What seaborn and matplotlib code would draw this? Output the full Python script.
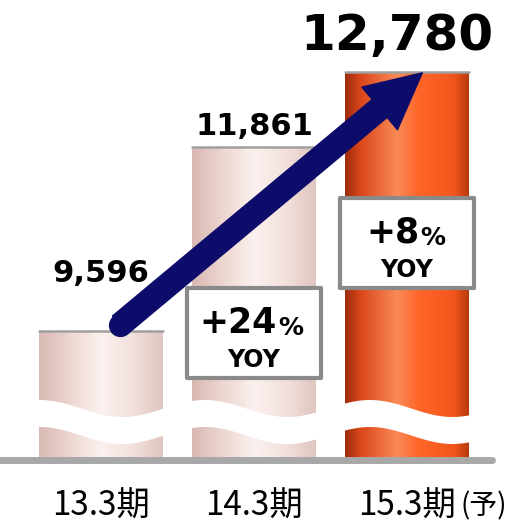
import numpy as np
import matplotlib
matplotlib.use("Agg")
import matplotlib.pyplot as plt
import seaborn as sns
from matplotlib.colors import LinearSegmentedColormap
from matplotlib.patches import Rectangle
from matplotlib.transforms import blended_transform_factory

# data
periods = ["13.3期", "14.3期", "15.3期"]
forecast_suffix = "(予)"
sales = [9596, 11861, 12780]
sales_labels = ["9,596", "11,861", "12,780"]
yoy_labels = [None, "+24", "+8"]  # % vs previous period

sns.set_theme(style="white")
plt.rcParams["font.family"] = ["DejaVu Sans", "Noto Sans CJK JP"]
plt.rcParams["text.color"] = "black"
plt.rcParams["xtick.color"] = "black"

fig = plt.figure(figsize=(5.12, 5.25), dpi=100)
ax = fig.add_axes([0, 65 / 525, 1, 460 / 525])

sns.barplot(x=periods, y=sales, hue=periods, legend=False, width=0.81,
            palette=["#f3e0dc", "#f3e0dc", "#f05a20"], ax=ax)

# broken axis: only the top part of the bars is shown
ylo, yhi = 8008, 13666

# cylinder look: horizontal gradient clipped to each bar
pink = LinearSegmentedColormap.from_list(
    "pink", ["#d8b9b2", "#edd6d0", "#fbf1ef", "#f3e1dd", "#e0c5bf"])
orange = LinearSegmentedColormap.from_list(
    "orange", [(0, "#9e2c0a"), (0.12, "#d9461a"), (0.42, "#f98a55"),
               (0.6, "#ff6428"), (0.88, "#f2561c"), (1, "#b83a0e")])
grad = np.linspace(0, 1, 256).reshape(1, -1)
for bar, cmap in zip(ax.patches, [pink, pink, orange]):
    x0, w, h = bar.get_x(), bar.get_width(), bar.get_height()
    im = ax.imshow(grad, cmap=cmap, extent=(x0, x0 + w, ylo, h),
                   aspect="auto", zorder=1.5, interpolation="bicubic")
    im.set_clip_path(bar)
    bar.set_facecolor("none")
    bar.set_edgecolor("none")
    ax.plot([x0, x0 + w], [h, h], color="#a0a0a0", lw=1.8, zorder=2,
            solid_capstyle="round")

ax.set_xlim(-0.66, 2.686)
ax.set_ylim(ylo, yhi)

# wavy white break across the bars
xs = np.linspace(0, 512, 400)
top_px = 408.5 - 8.5 * np.cos(2 * np.pi * (xs - 40) / 165)
ax.fill_between(xs / 512, (460 - top_px) / 460, (460 - top_px - 27) / 460,
                color="white", lw=0, zorder=3, transform=ax.transAxes)

# base plate
ax.axhline(ylo, xmin=0, xmax=0.96, color="#a8a8a8", lw=5, zorder=2.5,
           clip_on=False)

# growth arrow
navy = "#0d0c6b"
ax.annotate("", xy=(2.1, sales[2] - 10), xytext=(0.124, sales[0] + 73),
            arrowprops=dict(arrowstyle="simple,head_length=2.0,head_width=2.0,tail_width=0.84",
                            color=navy, shrinkA=0, shrinkB=0, mutation_scale=20),
            zorder=5)
ax.scatter([0.124], [sales[0] + 73], s=280, color=navy, zorder=5, lw=0)

# value labels
offsets = [(0, 35), (0, 8.5), (-7, 16)]
sizes = [22, 22, 36]
for i, (lab, v) in enumerate(zip(sales_labels, sales)):
    ax.annotate(lab, xy=(i, v), xytext=offsets[i], textcoords="offset points",
                ha="center", va="baseline", fontsize=sizes[i],
                fontweight="bold", color="black", zorder=6,
                annotation_clip=False)

# YOY boxes
tr = blended_transform_factory(ax.transData, ax.transAxes)
box_pos = [None, (0.178, 0.276, 0.202), (0.374, 0.472, 0.398)]
split = [None, 0.15, 0.08]
for i, lab in enumerate(yoy_labels):
    if lab is None:
        continue
    y0, yb, yy = box_pos[i]
    ax.add_patch(Rectangle((i - 0.44, y0), 0.88, 0.196, transform=tr,
                           facecolor="white", edgecolor="#8a8a8a", lw=3,
                           joinstyle="round", zorder=6))
    t = ax.text(i + split[i], yb, lab, transform=tr, ha="right",
                va="baseline", fontsize=25, fontweight="bold", zorder=7)
    ax.annotate("%", xy=(1, 0), xycoords=t, xytext=(1, 0),
                textcoords="offset points", ha="left", va="bottom",
                fontsize=18, fontweight="bold", zorder=7)
    ax.text(i, yy, "YOY", transform=tr, ha="center", va="baseline",
            fontsize=17, fontweight="bold", zorder=7)

# axis cosmetics
ax.set_yticks([])
ax.set_xticks(range(len(periods)))
ax.set_xticklabels(periods, fontsize=24, family=["Noto Sans CJK JP"])
ax.tick_params(axis="x", length=0, pad=21)
ax.set_xlabel("")
sns.despine(ax=ax, left=True, bottom=True)

last = ax.get_xticklabels()[-1]
ax.annotate(forecast_suffix, xy=(1, 0.5), xycoords=last, xytext=(3, 0),
            textcoords="offset points", ha="left", va="center", fontsize=20,
            family=["Noto Sans CJK JP"], annotation_clip=False)

fig.savefig("out.png", dpi=100, facecolor="white")
